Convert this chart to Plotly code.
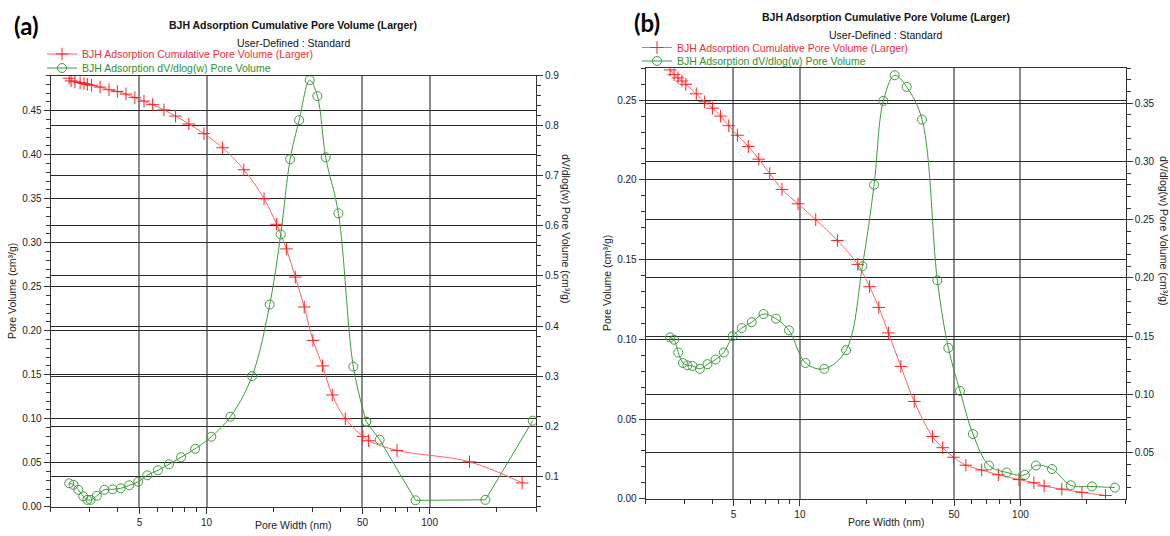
import math
import plotly.graph_objects as go

W, H = 1170, 536

# ---------------- data: panel (a) ----------------
a_cum_x = [2.42, 2.47, 2.57, 2.71, 2.82, 2.92, 3.05, 3.33, 3.65, 3.98, 4.35, 4.77, 5.24, 5.73,
           6.44, 7.26, 8.33, 9.73, 11.8, 14.7, 18.1, 20.6, 22.8, 25.0, 27.4, 30.0, 33.1, 36.6,
           41.9, 50.2, 53.3, 71.4, 151, 260]
a_cum_y = [0.487, 0.484, 0.483, 0.482, 0.481, 0.480, 0.479, 0.477, 0.474, 0.472, 0.469, 0.465,
           0.461, 0.457, 0.451, 0.444, 0.435, 0.424, 0.408, 0.383, 0.350, 0.321, 0.293, 0.261,
           0.227, 0.189, 0.160, 0.127, 0.100, 0.080, 0.075, 0.064, 0.051, 0.027]
a_dv_x = [2.42, 2.53, 2.66, 2.80, 2.92, 3.02, 3.22, 3.48, 3.79, 4.12, 4.50, 4.94, 5.42, 6.05,
          6.78, 7.69, 8.89, 10.5, 12.8, 16.0, 19.2, 21.5, 23.7, 26.0, 29.0, 31.4, 34.2, 39.0,
          45.5, 52.0, 59.7, 86.5, 178, 290]
a_dv_y = [0.086, 0.083, 0.073, 0.060, 0.053, 0.053, 0.061, 0.073, 0.074, 0.076, 0.082, 0.089,
          0.102, 0.112, 0.124, 0.138, 0.155, 0.179, 0.219, 0.300, 0.443, 0.583, 0.733, 0.811,
          0.891, 0.859, 0.737, 0.625, 0.319, 0.209, 0.173, 0.052, 0.053, 0.211]
a_dv_split = 29  # straight segments from here on

# ---------------- data: panel (b) ----------------
b_cum_x = [2.58, 2.69, 2.80, 2.92, 3.04, 3.39, 3.70, 4.02, 4.37, 4.76, 5.21, 5.84, 6.51, 7.30,
           8.30, 9.81, 11.8, 14.8, 18.3, 20.7, 22.8, 25.2, 28.7, 33.0, 39.9, 44.4, 49.7, 56.6,
           66.7, 79.4, 98.4, 115, 128, 154, 190, 243]
b_cum_y = [0.269, 0.266, 0.264, 0.262, 0.260, 0.254, 0.249, 0.245, 0.240, 0.234, 0.228, 0.221,
           0.213, 0.204, 0.194, 0.185, 0.175, 0.162, 0.147, 0.133, 0.120, 0.104, 0.083, 0.061,
           0.039, 0.032, 0.026, 0.021, 0.018, 0.015, 0.012, 0.010, 0.008, 0.006, 0.004, 0.002]
b_dv_x = [2.58, 2.69, 2.81, 2.95, 3.09, 3.26, 3.52, 3.81, 4.15, 4.52, 4.96, 5.45, 6.05, 6.84,
          7.80, 8.93, 10.6, 12.9, 16.2, 19.2, 21.7, 23.9, 26.9, 30.5, 35.8, 42.0, 47.1, 53.2,
          60.9, 72.0, 86.6, 104.7, 117.5, 139, 169, 211, 268]
b_dv_y = [0.149, 0.147, 0.136, 0.127, 0.125, 0.1245, 0.122, 0.126, 0.130, 0.136, 0.150, 0.157,
          0.162, 0.169, 0.165, 0.155, 0.127, 0.122, 0.138, 0.210, 0.280, 0.352, 0.374, 0.364,
          0.336, 0.198, 0.140, 0.103, 0.066, 0.039, 0.033, 0.031, 0.039, 0.036, 0.022, 0.021,
          0.020]

# ---------------- text ----------------
panel_labels = ["(a)", "(b)"]
title_text = "BJH Adsorption Cumulative Pore Volume (Larger)"
subtitle_text = "User-Defined : Standard"
cum_name = "BJH Adsorption Cumulative Pore Volume (Larger)"
dv_name = "BJH Adsorption dV/dlog(w) Pore Volume"
x_title = "Pore Width (nm)"
yl_title = "Pore Volume (cm³/g)"
yr_title = "dV/dlog(w) Pore Volume (cm³/g)"
x_major = [5, 10, 50, 100]
x_minor = [2, 3, 4, 6, 7, 8, 9, 20, 30, 40, 60, 70, 80, 90, 200, 300]

RED = "#ff1f1f"
RED_LINE = "#ff6060"
RED_TXT = "#e8303a"
GREEN = "#3d9a3d"
GREEN_TXT = "#2f8f2f"
AX = "#333333"
FONT = "Liberation Sans, Arial, sans-serif"


def fx(p):
    return p / W


def fy(p):
    return 1 - p / H


fig = go.Figure()


def add_cum(x, y, xa, ya, legend):
    fig.add_trace(go.Scatter(
        x=x, y=y, xaxis=xa, yaxis=ya, mode="lines+markers",
        line=dict(color=RED_LINE, width=1, shape="spline", smoothing=1),
        marker=dict(symbol="cross-thin", size=9, color=RED, line=dict(color=RED, width=1)),
        name=f'<span style="color:{RED_TXT}">{cum_name}</span>',
        legend=legend, showlegend=True))


def add_dv(x, y, xa, ya, legend, showlegend=True, shape="spline"):
    fig.add_trace(go.Scatter(
        x=x, y=y, xaxis=xa, yaxis=ya, mode="lines+markers",
        line=dict(color=GREEN, width=1, shape=shape, smoothing=1),
        marker=dict(symbol="circle-open", size=9, color=GREEN, line=dict(color=GREEN, width=1)),
        name=f'<span style="color:{GREEN_TXT}">{dv_name}</span>',
        legend=legend, showlegend=showlegend))


# panel (a)
add_cum(a_cum_x, a_cum_y, "x", "y", "legend")
add_dv(a_dv_x[:a_dv_split + 1], a_dv_y[:a_dv_split + 1], "x", "y2", "legend2")
add_dv(a_dv_x[a_dv_split:], a_dv_y[a_dv_split:], "x", "y2", "legend2", showlegend=False, shape="linear")
# panel (b)
add_cum(b_cum_x, b_cum_y, "x2", "y3", "legend3")
add_dv(b_dv_x, b_dv_y, "x2", "y4", "legend4")

# plot-area pixel boxes
A = dict(l=50.7, r=536.0, t=75.6, b=506.7)
B = dict(l=645.7, r=1125.7, t=68.3, b=498.7)

tickfont = dict(family=FONT, size=10, color="#222")


def xaxis(box, anchor):
    return dict(
        type="log", range=[math.log10(2), math.log10(300)],
        domain=[fx(box["l"]), fx(box["r"])], anchor=anchor,
        tickmode="array", tickvals=x_major, ticktext=[str(v) for v in x_major],
        ticks="outside", ticklen=6, tickcolor=AX, tickwidth=1,
        showgrid=True, gridcolor="#8a8a8a", gridwidth=1.5,
        showline=True, linecolor=AX, linewidth=1, mirror=True,
        minor=dict(tickmode="array", tickvals=x_minor, ticks="outside", ticklen=4,
                   tickcolor=AX, showgrid=False),
        tickfont=tickfont, zeroline=False, automargin=False)


def yaxis(box, anchor, rng, dtick, minor, fmt, side="left", overlay=None):
    d = dict(
        range=rng, domain=[fy(box["b"]), fy(box["t"])], anchor=anchor, side=side,
        tick0=0, dtick=dtick, tickformat=fmt,
        ticks="outside", ticklen=6, tickcolor=AX, tickwidth=1,
        showgrid=True, gridcolor="#2a2a2a", gridwidth=1,
        showline=True, linecolor=AX, linewidth=1,
        minor=dict(dtick=minor, ticks="outside", ticklen=4, tickcolor=AX, showgrid=False),
        tickfont=tickfont, zeroline=False, automargin=False)
    if overlay:
        d["overlaying"] = overlay
    return d


legend_common = dict(bgcolor="rgba(0,0,0,0)", borderwidth=0, xanchor="left", yanchor="middle",
                     font=dict(family=FONT, size=10.5), itemclick=False, itemdoubleclick=False)

fig.update_layout(
    width=W, height=H, autosize=False,
    margin=dict(l=0, r=0, t=0, b=0),
    paper_bgcolor="white", plot_bgcolor="white",
    font=dict(family=FONT, size=10, color="#222"),
    xaxis=xaxis(A, "y"),
    yaxis=yaxis(A, "x", [0, 0.49], 0.05, 0.01, ".2f"),
    yaxis2=yaxis(A, "x", [0.0393, 0.9], 0.1, 0.02, ".1f", side="right", overlay="y"),
    xaxis2=xaxis(B, "y3"),
    yaxis3=yaxis(B, "x2", [0, 0.27], 0.05, 0.01, ".2f"),
    yaxis4=yaxis(B, "x2", [0.0105, 0.380], 0.05, 0.01, ".2f", side="right", overlay="y3"),
    legend=dict(x=fx(42), y=fy(54), **legend_common),
    legend2=dict(x=fx(42), y=fy(68), **legend_common),
    legend3=dict(x=fx(637), y=fy(47.5), **legend_common),
    legend4=dict(x=fx(637), y=fy(61), **legend_common),
)

ann = []
for lab, lx, ly in zip(panel_labels, [26, 647], [26, 23]):
    ann.append(dict(text=f"<b>{lab}</b>", x=fx(lx), y=fy(ly), xref="paper", yref="paper",
                    showarrow=False, xanchor="center", yanchor="middle",
                    font=dict(family="Lato, Open Sans, sans-serif", size=24, color="#000")))

for box, ty, sy, xty, ylx, yly, yrx, yry in [
        (A, 25, 42.7, 525, 12, 291, 566, 228),
        (B, 17, 35, 522, 607, 283, 1164, 230)]:
    cx = (box["l"] + box["r"]) / 2
    ann.append(dict(text=f"<b>{title_text}</b>", x=fx(cx), y=fy(ty), xref="paper", yref="paper",
                    showarrow=False, xanchor="center", yanchor="middle",
                    font=dict(family=FONT, size=10.5, color="#111")))
    ann.append(dict(text=subtitle_text, x=fx(cx), y=fy(sy), xref="paper", yref="paper",
                    showarrow=False, xanchor="center", yanchor="middle",
                    font=dict(family=FONT, size=10.5, color="#111")))
    ann.append(dict(text=x_title, x=fx(cx), y=fy(xty), xref="paper", yref="paper",
                    showarrow=False, xanchor="center", yanchor="middle",
                    font=dict(family=FONT, size=10.5, color="#222")))
    ann.append(dict(text=yl_title, x=fx(ylx), y=fy(yly), xref="paper", yref="paper",
                    showarrow=False, xanchor="center", yanchor="middle", textangle=-90,
                    font=dict(family=FONT, size=10.5, color="#222")))
    ann.append(dict(text=yr_title, x=fx(yrx), y=fy(yry), xref="paper", yref="paper",
                    showarrow=False, xanchor="center", yanchor="middle", textangle=90,
                    font=dict(family=FONT, size=10.5, color="#222")))

fig.update_layout(annotations=ann)

fig.write_html("out.html")
